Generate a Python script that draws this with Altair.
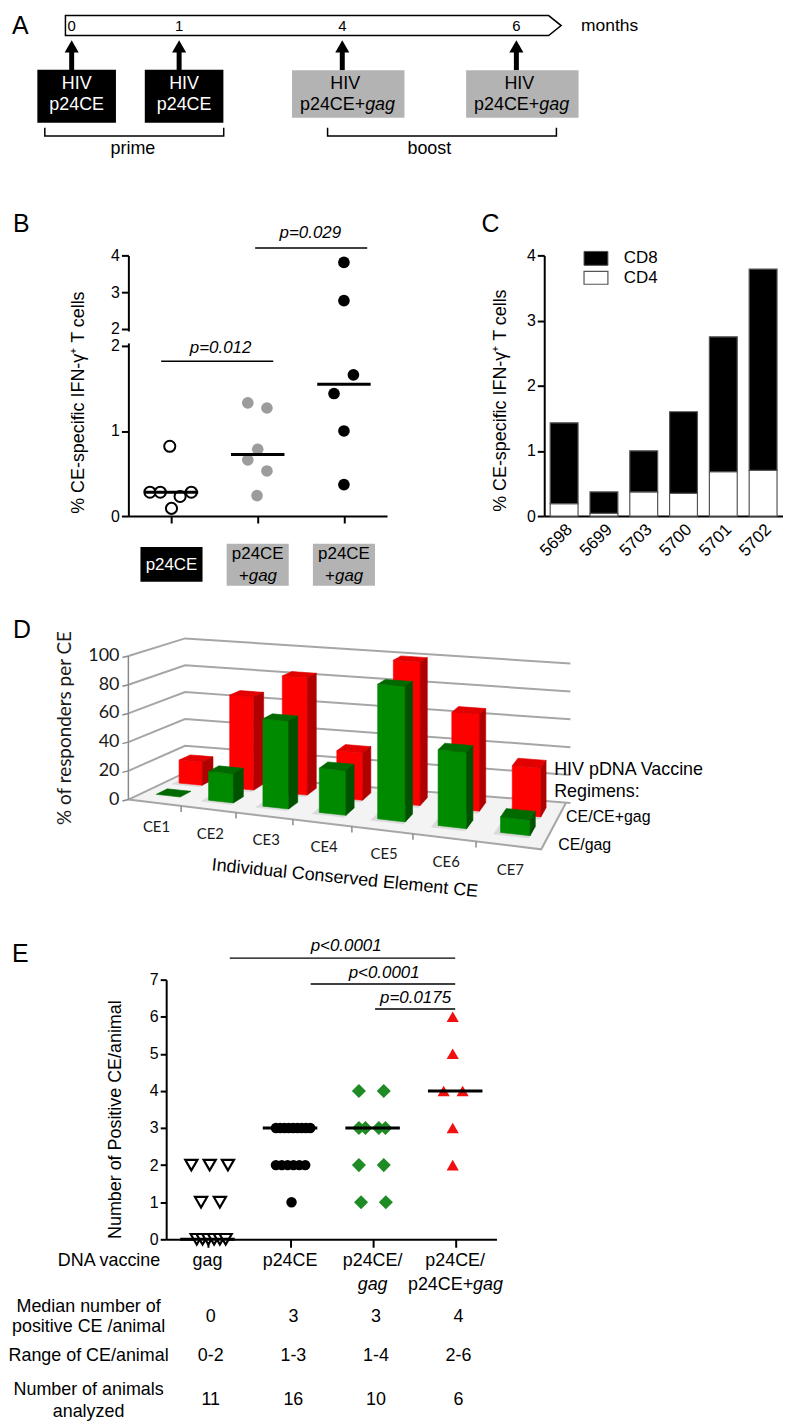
import altair as alt
import numpy as np
import pandas as pd

FONT = "Liberation Sans"
CAL = "Lato"
GRAY_BOX = "#b3b3b3"

# ---------------- data ----------------
# A: immunisation schedule
A_MONTHS = [0, 1, 4, 6]
A_MONTH_LABELS = ["0", "1", "4", "6"]
A_VACCINE = ["p24CE", "p24CE", "p24CE+gag", "p24CE+gag"]
A_PHASES = ["prime", "boost"]
A_PHASE_FROM = [-0.25, 3.73]
A_PHASE_TO = [1.82, 6.46]
A_PHASE_MID = [0.57, 5.0]

# B: % CE-specific IFN-g+ T cells per group (dot plot)
B_GROUPS = ["p24CE", "p24CE+gag", "p24CE+gag"]
B_G0 = [0.82, 0.28, 0.28, 0.23, 0.28, 0.09]
B_G0_JIT = [-0.02, -0.25, -0.13, 0.10, 0.23, 0.00]
B_G1 = [1.33, 1.27, 0.785, 0.66, 0.53, 0.24]
B_G1_JIT = [-0.115, 0.107, 0.0, -0.115, 0.107, -0.008]
B_G2 = [3.81, 2.77, 1.66, 1.44, 1.00, 0.37]
B_G2_JIT = [0.0, 0.0, 0.11, -0.115, 0.0, 0.0]
B_PVALS = ["p=0.012", "p=0.029"]

# C: CD4 / CD8 stacked per animal
C_ANIMALS = ["5698", "5699", "5703", "5700", "5701", "5702"]
C_CD4 = [0.19, 0.04, 0.37, 0.35, 0.68, 0.70]
C_CD8 = [1.24, 0.33, 0.63, 1.25, 2.07, 3.09]

# D: % responders per CE (3-D columns)
D_CE = ["CE1", "CE2", "CE3", "CE4", "CE5", "CE6", "CE7"]
D_CE_GAG = [0, 20, 60, 30, 90, 50, 10]
D_CE_CEGAG = [16.7, 66.7, 83.3, 33.3, 100, 66.7, 33.3]
D_TICKS = [0, 20, 40, 60, 80, 100]
D_SERIES = ["CE/CE+gag", "CE/gag"]

# E: number of positive CE per animal
E_GROUPS = ["gag", "p24CE", "p24CE/gag", "p24CE/p24CE+gag"]
E_GAG = [2, 2, 2, 1, 1, 0, 0, 0, 0, 0, 0]
E_GAG_JIT = [-0.195, 0.027, 0.248, -0.078, 0.15, -0.13, -0.06, 0.01, 0.08, 0.15, 0.22]
E_P24 = [3, 3, 3, 3, 3, 3, 3, 3, 3, 2, 2, 2, 2, 2, 2, 1]
E_P24_JIT = [-0.171, -0.119, -0.067, -0.015, 0.037, 0.089, 0.141, 0.193, 0.245,
             -0.171, -0.1, -0.029, 0.042, 0.113, 0.184, 0.018]
E_CEGAG = [4, 4, 3, 3, 3, 3, 2, 2, 1, 1]
E_CEGAG_JIT = [-0.166, 0.135, -0.166, -0.087, 0.075, 0.155, -0.166, 0.135, -0.14, 0.16]
E_BOOST = [6, 5, 4, 4, 3, 2]
E_BOOST_JIT = [-0.03, -0.03, -0.14, 0.09, -0.03, -0.03]
E_LINE1 = ["gag", "p24CE", "p24CE/", "p24CE/"]
E_MEDIAN_TXT = ["0", "3", "3", "4"]
E_RANGE_TXT = ["0-2", "1-3", "1-4", "2-6"]
E_N_TXT = ["11", "16", "10", "6"]
E_PVALS = ["p<0.0001", "p<0.0001", "p=0.0175"]

ONE = pd.DataFrame({"d": [0]})


def label(text, x, y, size=17, align="center", angle=0, style="normal",
          color="black", font=FONT):
    return alt.Chart(ONE).mark_text(
        text=text, font=font, fontSize=size, align=align, baseline="middle",
        angle=angle, fontStyle=style, color=color
    ).encode(x=alt.value(x), y=alt.value(y))


def spacer(w, h=1):
    return alt.Chart(ONE).mark_point(opacity=0).properties(width=w, height=h)


AXIS_KW = dict(title=None, grid=False, domainWidth=2, tickWidth=2, domainColor="black",
               tickColor="black", labelColor="black", labelFont=FONT, zindex=0,
               labelOverlap=False, labelBound=False, labelFlush=False)

# ================= Panel A =================
AX = alt.X("m:Q", scale=alt.Scale(domain=[-1, 0, 1, 4, 6, 8],
                                  range=[-48, 60, 168, 332, 507, 682],
                                  nice=False, zero=False), axis=None)
AY = alt.Y("py:Q", scale=alt.Scale(domain=[0, 242], range=[0, 242],
                                   nice=False, zero=False), axis=None)
sched = pd.DataFrame({"m": A_MONTHS, "lab": A_MONTH_LABELS, "vac": A_VACCINE})
prime_df = sched[sched.vac == "p24CE"]
boost_df = sched[sched.vac != "p24CE"]

tl = pd.DataFrame({"m": [-0.058, 6.371, 6.514], "py": [1, 1, 11], "py2": [21, 21, 11]})
a_layers = [
    alt.Chart(tl).mark_area(fill="white", stroke="black", strokeWidth=1.5, orient="vertical")
    .encode(x=AX, y=AY, y2="py2:Q"),
    alt.Chart(sched).mark_text(font=FONT, fontSize=15, baseline="middle")
    .encode(x=AX, y=alt.value(11), text="lab:N"),
    alt.Chart(sched).mark_rule(color="black", strokeWidth=5)
    .encode(x=AX, y=alt.value(37), y2=alt.value(56)),
    alt.Chart(sched).mark_point(shape="triangle-up", filled=True, color="black",
                                size=200, opacity=1)
    .encode(x=AX, y=alt.value(32)),
    alt.Chart(prime_df).mark_rect(color="black", xOffset=5 - 39.5, x2Offset=5 + 39.5)
    .encode(x=AX, x2="m:Q", y=alt.value(55.3), y2=alt.value(108.8)),
    alt.Chart(boost_df).mark_rect(color=GRAY_BOX, xOffset=6 - 56.5, x2Offset=6 + 56.5)
    .encode(x=AX, x2="m:Q", y=alt.value(56), y2=alt.value(103.7)),
    alt.Chart(prime_df).mark_text(text="HIV", font=FONT, fontSize=18, color="white",
                                  dx=5, baseline="middle")
    .encode(x=AX, y=alt.value(69.7)),
    alt.Chart(prime_df).mark_text(font=FONT, fontSize=18, color="white", dx=5,
                                  baseline="middle")
    .encode(x=AX, y=alt.value(91.3), text="vac:N"),
    alt.Chart(boost_df).mark_text(text="HIV", font=FONT, fontSize=18, color="black",
                                  dx=3, baseline="middle")
    .encode(x=AX, y=alt.value(69.7)),
    alt.Chart(boost_df).mark_text(text="p24CE+", font=FONT, fontSize=18, color="black",
                                  dx=23, align="right", baseline="middle")
    .encode(x=AX, y=alt.value(91.3)),
    alt.Chart(boost_df).mark_text(text="gag", font=FONT, fontSize=18, color="black",
                                  dx=23, align="left", fontStyle="italic",
                                  baseline="middle")
    .encode(x=AX, y=alt.value(91.3)),
]
br_rows = []
for i, (a, b) in enumerate(zip(A_PHASE_FROM, A_PHASE_TO)):
    br_rows += [dict(id=i, o=0, m=a, py=113.7), dict(id=i, o=1, m=a, py=122),
                dict(id=i, o=2, m=b, py=122), dict(id=i, o=3, m=b, py=113.7)]
a_layers += [
    alt.Chart(pd.DataFrame(br_rows)).mark_line(color="black", strokeWidth=1.5)
    .encode(x=AX, y=AY, order="o:Q", detail="id:N"),
    alt.Chart(pd.DataFrame({"m": A_PHASE_MID, "lab": A_PHASES}))
    .mark_text(font=FONT, fontSize=18, baseline="middle")
    .encode(x=AX, y=alt.value(135), text="lab:N"),
    label("months", 572, 11, size=17.5, align="left"),
    label("A", 0, 11, size=25, align="left"),
]
panelA = alt.layer(*a_layers).properties(width=1, height=242)

# ================= Panel B (broken y axis via piecewise scale) =================
BX = alt.X("x:Q", scale=alt.Scale(domain=[-0.5, 2.5], nice=False, zero=False),
           axis=alt.Axis(values=[0, 1, 2], labels=False, tickSize=7, **AXIS_KW))
BY = alt.Y("v:Q", scale=alt.Scale(domain=[0, 2, 2.001, 4], range=[262, 91, 74, 0],
                                  nice=False, zero=False),
           axis=alt.Axis(values=[0, 1, 2, 2.001, 3, 4], labelExpr="round(datum.value)",
                         tickSize=7, tickCount=20, tickMinStep=0.001,
                         labelFontSize=16, labelPadding=2, **AXIS_KW))


def bdf(vals, jit, idx):
    return pd.DataFrame({"x": [idx + j for j in jit], "v": vals})


g0 = bdf(B_G0, B_G0_JIT, 0)
g1 = bdf(B_G1, B_G1_JIT, 1)
g2 = bdf(B_G2, B_G2_JIT, 2)
meds = pd.DataFrame({"x": [i - 0.31 for i in range(3)], "x2": [i + 0.31 for i in range(3)],
                     "v": [np.median(B_G0), np.median(B_G1), np.median(B_G2)]})
boxes = pd.DataFrame({"x": [i - 0.36 for i in range(3)], "x2": [i + 0.36 for i in range(3)],
                      "v": [-0.363, -0.327, -0.327], "v2": [-0.772, -0.819, -0.819],
                      "fill": ["black", GRAY_BOX, GRAY_BOX]})
b_layers = [
    alt.Chart(g0).mark_point(shape="circle", filled=True, fill="white", stroke="black",
                             strokeWidth=2, size=125, opacity=1).encode(x=BX, y=BY),
    alt.Chart(g1).mark_circle(color="#9c9c9c", size=137, opacity=1).encode(x=BX, y=BY),
    alt.Chart(g2).mark_circle(color="black", size=137, opacity=1).encode(x=BX, y=BY),
    alt.Chart(meds).mark_rule(color="black", strokeWidth=3).encode(x=BX, x2="x2:Q", y=BY),
    alt.Chart(pd.DataFrame({"x": [-0.12, 0.97], "x2": [1.18, 2.27], "v": [1.82, 4.2]}))
    .mark_rule(color="black", strokeWidth=1.5).encode(x=BX, x2="x2:Q", y=BY),
    alt.Chart(pd.DataFrame({"x": [0.57, 1.61], "v": [1.97, 4.6], "t": B_PVALS}))
    .mark_text(font=FONT, fontSize=17, fontStyle="italic", baseline="middle")
    .encode(x=BX, y=BY, text="t:N"),
    alt.Chart(boxes).mark_rect().encode(x=BX, x2="x2:Q", y=BY, y2="v2:Q",
                                        color=alt.Color("fill:N", scale=None)),
    alt.Chart(pd.DataFrame({"x": [0], "v": [-0.573], "t": [B_GROUPS[0]]}))
    .mark_text(font=FONT, fontSize=17, color="white", baseline="middle")
    .encode(x=BX, y=BY, text="t:N"),
    alt.Chart(pd.DataFrame({"x": [1, 2], "v": [-0.444, -0.444]}))
    .mark_text(text="p24CE", font=FONT, fontSize=17, baseline="middle")
    .encode(x=BX, y=BY),
    alt.Chart(pd.DataFrame({"x": [1, 2], "v": [-0.702, -0.702]}))
    .mark_text(text="+", font=FONT, fontSize=17, align="right", dx=-9, baseline="middle")
    .encode(x=BX, y=BY),
    alt.Chart(pd.DataFrame({"x": [1, 2], "v": [-0.702, -0.702]}))
    .mark_text(text="gag", font=FONT, fontSize=17, align="left", dx=-9,
               fontStyle="italic", baseline="middle")
    .encode(x=BX, y=BY),
    alt.Chart(ONE).mark_rect(color="white")
    .encode(x=alt.value(-4), x2=alt.value(4), y=alt.value(76.5), y2=alt.value(88.5)),
    label("% CE-specific IFN-\u03b3\u207a T cells", -50, 148, size=18, angle=270),
    label("B", -116, -32, size=25, align="left"),
]
panelB = alt.layer(*b_layers).properties(width=260, height=262)

# ================= Panel C =================
c_rows = []
for a, c4, c8 in zip(C_ANIMALS, C_CD4, C_CD8):
    c_rows.append({"animal": a, "subset": "CD4", "value": c4, "ord": 0})
    c_rows.append({"animal": a, "subset": "CD8", "value": c8, "ord": 1})
cdf = pd.DataFrame(c_rows)
c_bars = alt.Chart(cdf).mark_bar(stroke="#555555", strokeWidth=1.2).encode(
    x=alt.X("animal:N", sort=C_ANIMALS,
            scale=alt.Scale(paddingInner=0.3, paddingOuter=0.15),
            axis=alt.Axis(labelAngle=-45, ticks=False, labelFontSize=17, labelPadding=5,
                          **AXIS_KW)),
    y=alt.Y("value:Q", stack="zero", scale=alt.Scale(domain=[0, 4], nice=False),
            axis=alt.Axis(values=[0, 1, 2, 3, 4], tickSize=7,
                          labelFontSize=16, labelPadding=2, **AXIS_KW)),
    color=alt.Color("subset:N", scale=alt.Scale(domain=["CD8", "CD4"],
                                                range=["#000000", "#ffffff"]),
                    legend=None),
    order=alt.Order("ord:Q"),
)
leg = [
    alt.Chart(ONE).mark_rect(color="black", stroke="#555555", strokeWidth=1)
    .encode(x=alt.value(40), x2=alt.value(64), y=alt.value(-4), y2=alt.value(10)),
    alt.Chart(ONE).mark_rect(color="white", stroke="#555555", strokeWidth=1.2)
    .encode(x=alt.value(40), x2=alt.value(64), y=alt.value(16), y2=alt.value(29)),
    label("CD8", 80, 3, size=17, align="left"),
    label("CD4", 80, 23, size=17, align="left"),
    label("C", -63, -31, size=25, align="left"),
    label("% CE-specific IFN-\u03b3\u207a T cells", -43, 146, size=18, angle=270),
]
panelC = alt.layer(c_bars, *leg).properties(width=240, height=262)

# ================= Panel D (3-D columns, perspective-like projection) =================
D_FLB, D_FRB, D_BLB, D_BRB = (125.0, 797.0), (540.0, 847.0), (182.0, 770.0), (565.0, 800.0)
D_S = (1.443, 1.62, 1.35, 1.40)


def fu(u, a=0.14):
    return u * (1 + a * u) / (1 + a)


def proj(u, w, v):
    f = fu(u)
    fx = D_FLB[0] + (D_FRB[0] - D_FLB[0]) * f
    fy = D_FLB[1] + (D_FRB[1] - D_FLB[1]) * f
    bx = D_BLB[0] + (D_BRB[0] - D_BLB[0]) * f
    by = D_BLB[1] + (D_BRB[1] - D_BLB[1]) * f
    sf = D_S[0] + (D_S[1] - D_S[0]) * f
    sb = D_S[2] + (D_S[3] - D_S[2]) * f
    x = fx + (bx - fx) * w
    y = fy + (by - fy) * w
    s = sf + (sb - sf) * w
    return x, y - s * v


def poly_rows(pts, pid):
    """Convex polygon -> rows (x, top y, bottom y) for a vertical area mark."""
    xs = sorted(set(round(p[0], 3) for p in pts))
    n = len(pts)
    rows = []
    for x in xs:
        ys = []
        for i in range(n):
            (x1, y1), (x2, y2) = pts[i], pts[(i + 1) % n]
            if min(x1, x2) - 1e-3 <= x <= max(x1, x2) + 1e-3:
                if abs(x2 - x1) < 1e-3:
                    ys += [y1, y2]
                else:
                    t = min(1, max(0, (x - x1) / (x2 - x1)))
                    ys.append(y1 + t * (y2 - y1))
        rows.append({"pid": pid, "x": x, "y": min(ys), "y2": max(ys)})
    return rows


DX = alt.X("x:Q", scale=alt.Scale(domain=[8, 783], range=[0, 775], nice=False, zero=False),
           axis=None)
DY = alt.Y("y:Q", scale=alt.Scale(domain=[512, 977.3], range=[0, 465.3], nice=False,
                                  zero=False), axis=None)


def poly_layer(rows, color, opacity=1):
    return alt.Chart(pd.DataFrame(rows)).mark_area(
        orient="vertical", interpolate="linear", fill=color, stroke=color,
        strokeWidth=0.6, opacity=opacity
    ).encode(x=DX, y=DY, y2="y2:Q", detail="pid:N")


def line_layer(rows, color, width):
    return alt.Chart(pd.DataFrame(rows)).mark_line(color=color, strokeWidth=width).encode(
        x=DX, y=DY, order="o:Q", detail="gid:N")


RED = {"front": "#ff0000", "top": "#e30000", "side": "#b00000"}
GREEN = {"front": "#008a00", "top": "#006a00", "side": "#005200"}
HALF = 0.033
faces = {(t, f): [] for t in ["r", "g"] for f in ["front", "top", "side", "shadow"]}
for k in range(7):
    uc = (k + 0.5) / 7
    u0, u1 = uc - HALF, uc + HALF
    for vals, (w0, w1), tag in [(D_CE_CEGAG, (0.66, 0.86), "r"),
                                (D_CE_GAG, (0.25, 0.45), "g")]:
        v = vals[k]
        if v > 0:
            faces[(tag, "shadow")] += poly_rows(
                [proj(u0 - 0.012, w0 - 0.05, 0), proj(u1, w0 - 0.05, 0),
                 proj(u1, w1, 0), proj(u0 - 0.012, w1, 0)], f"{tag}{k}h")
            faces[(tag, "front")] += poly_rows(
                [proj(u0, w0, 0), proj(u1, w0, 0), proj(u1, w0, v), proj(u0, w0, v)],
                f"{tag}{k}f")
            faces[(tag, "side")] += poly_rows(
                [proj(u1, w0, 0), proj(u1, w1, 0), proj(u1, w1, v), proj(u1, w0, v)],
                f"{tag}{k}s")
        faces[(tag, "top")] += poly_rows(
            [proj(u0, w0, v), proj(u1, w0, v), proj(u1, w1, v), proj(u0, w1, v)],
            f"{tag}{k}t")

floor = poly_rows([proj(0, 0, 0), proj(1, 0, 0), proj(1, 1, 0), proj(0, 1, 0)], "floor")


def path_rows(pts, gid):
    return [{"gid": gid, "o": i, "x": p[0], "y": p[1]} for i, p in enumerate(pts)]


grid = []
for v in D_TICKS:
    grid += path_rows([proj(0, 0, v), proj(0, 1, v), proj(1.01, 1, v)], f"g{v}")
edges = path_rows([proj(0, 0, 0), proj(1, 0, 0), proj(1, 1, 0)], "edge")
axis_lines = path_rows([proj(0, 0, 0), proj(0, 0, 100)], "ax")
for v in D_TICKS:
    x, y = proj(0, 0, v)
    axis_lines += path_rows([(x, y), (x - 6, y + 1.5)], f"t{v}")
for k in range(1, 7):
    x, y = proj(k / 7, 0, 0)
    axis_lines += path_rows([(x, y), (x, y + 6)], f"c{k}")

tick_lab = pd.DataFrame({"x": [116] * len(D_TICKS),
                         "y": [proj(0, 0, v)[1] for v in D_TICKS],
                         "t": [str(v) for v in D_TICKS]})
ce_lab = pd.DataFrame({"x": [proj((k + 0.5) / 7, 0, 0)[0] + 2 for k in range(7)],
                       "y": [proj((k + 0.5) / 7, 0, 0)[1] + 24.5 for k in range(7)],
                       "t": D_CE})

d_layers = [
    poly_layer(floor, "#f3f3f3"),
    line_layer(grid, "#a6a6a6", 2),
    line_layer(edges, "#a6a6a6", 2),
    line_layer(axis_lines, "#8a8a8a", 1.5),
]
for tag, cols in [("r", RED), ("g", GREEN)]:
    d_layers.append(poly_layer(faces[(tag, "shadow")], "#d4d4d4", 0.8))
    for f in ["front", "top", "side"]:
        d_layers.append(poly_layer(faces[(tag, f)], cols[f]))
d_layers += [
    alt.Chart(tick_lab).mark_text(font=CAL, fontSize=18, align="right", baseline="middle",
                                  color="#1a1a1a").encode(x=DX, y=DY, text="t:N"),
    alt.Chart(ce_lab).mark_text(font=CAL, fontSize=15, baseline="middle",
                                color="#1a1a1a").encode(x=DX, y=DY, text="t:N"),
    alt.Chart(pd.DataFrame({"x": [565, 557], "y": [815, 843], "t": D_SERIES}))
    .mark_text(font=FONT, fontSize=16, align="left", baseline="middle")
    .encode(x=DX, y=DY, text="t:N"),
    alt.Chart(pd.DataFrame({"x": [553, 553], "y": [767, 789],
                            "t": ["HIV pDNA Vaccine", "Regimens:"]}))
    .mark_text(font=FONT, fontSize=18, align="left", baseline="middle")
    .encode(x=DX, y=DY, text="t:N"),
    alt.Chart(pd.DataFrame({"x": [61], "y": [725], "t": ["% of responders per CE"]}))
    .mark_text(font=CAL, fontSize=19, angle=270, baseline="middle", color="#1a1a1a")
    .encode(x=DX, y=DY, text="t:N"),
    alt.Chart(pd.DataFrame({"x": [342.5], "y": [876.5], "t": ["Individual Conserved Element CE"]}))
    .mark_text(font=FONT, fontSize=18, angle=5.7, baseline="middle")
    .encode(x=DX, y=DY, text="t:N"),
    alt.Chart(pd.DataFrame({"x": [9], "y": [627], "t": ["D"]}))
    .mark_text(font=FONT, fontSize=25, align="left", baseline="middle")
    .encode(x=DX, y=DY, text="t:N"),
]
panelD = alt.layer(*d_layers).properties(width=1, height=465.3)

# ================= Panel E (cell starts at page x 125; plot spans 163..495) =================
E_OFF = 38
EX = alt.X("x:Q", scale=alt.Scale(domain=[-0.5, 3.5], range=[E_OFF, E_OFF + 332],
                                  nice=False, zero=False),
           axis=alt.Axis(values=[0, 1, 2, 3], labels=False, tickSize=8, **AXIS_KW))
EY = alt.Y("v:Q", scale=alt.Scale(domain=[0, 7], nice=False, zero=False),
           axis=alt.Axis(values=list(range(8)), tickSize=6, labelFontSize=16,
                         labelPadding=2, offset=-E_OFF, **AXIS_KW))


def edf(vals, jit, idx):
    return pd.DataFrame({"x": [idx + j for j in jit], "v": vals})


e0 = edf(E_GAG, E_GAG_JIT, 0)
e1 = edf(E_P24, E_P24_JIT, 1)
e2 = edf(E_CEGAG, E_CEGAG_JIT, 2)
e3 = edf(E_BOOST, E_BOOST_JIT, 3)
emeds = pd.DataFrame({"x": [i - 0.33 for i in range(4)], "x2": [i + 0.33 for i in range(4)],
                      "v": [np.median(E_GAG), np.median(E_P24), np.median(E_CEGAG),
                            np.median(E_BOOST)]})
epv = pd.DataFrame({"x": [0.27, 1.25, 2.03], "x2": [3.0, 3.0, 3.0], "v": [7.58, 6.88, 6.21]})
epvt = pd.DataFrame({"x": [1.68, 2.14, 2.52], "v": [7.91, 7.19, 6.5], "t": E_PVALS})
tbl = pd.DataFrame({"x": [i + 0.04 for i in range(4)], "med": E_MEDIAN_TXT,
                    "rng": E_RANGE_TXT, "n": E_N_TXT})
line1 = pd.DataFrame({"x": [0, 1, 2, 3], "t": E_LINE1})


def etext(df, y, field, **kw):
    return alt.Chart(df).mark_text(font=FONT, fontSize=18, baseline="middle", **kw).encode(
        x=EX, y=alt.value(y), text=f"{field}:N")


e_layers = [
    alt.Chart(e0).mark_point(shape="triangle-down", filled=True, fill="white", stroke="black",
                             strokeWidth=2.2, size=150, opacity=1).encode(x=EX, y=EY),
    alt.Chart(e1).mark_circle(color="black", size=110, opacity=1).encode(x=EX, y=EY),
    alt.Chart(e2).mark_point(shape="diamond", filled=True, color="#1f8b24", size=200,
                             opacity=1).encode(x=EX, y=EY),
    alt.Chart(e3).mark_point(shape="triangle-up", filled=True, color="#f01010", size=150,
                             opacity=1).encode(x=EX, y=EY),
    alt.Chart(emeds).mark_rule(color="black", strokeWidth=3).encode(x=EX, x2="x2:Q", y=EY),
    alt.Chart(epv).mark_rule(color="black", strokeWidth=1.5).encode(x=EX, x2="x2:Q", y=EY),
    alt.Chart(epvt).mark_text(font=FONT, fontSize=17, fontStyle="italic", baseline="middle")
    .encode(x=EX, y=EY, text="t:N"),
    etext(line1, 282.7, "t"),
    etext(line1[line1.x == 2], 306.7, "t", fontStyle="italic").encode(text=alt.value("gag")),
    alt.Chart(line1[line1.x == 3]).mark_text(text="p24CE+", font=FONT, fontSize=18,
                                             align="right", dx=18, baseline="middle")
    .encode(x=EX, y=alt.value(306.7)),
    alt.Chart(line1[line1.x == 3]).mark_text(text="gag", font=FONT, fontSize=18,
                                             align="left", dx=18, fontStyle="italic",
                                             baseline="middle")
    .encode(x=EX, y=alt.value(306.7)),
    etext(tbl, 338.7, "med"),
    etext(tbl, 378.7, "rng"),
    etext(tbl, 422.7, "n"),
    label("DNA vaccine", E_OFF - 6, 282.7, size=18, align="right"),
    label("Median number of", E_OFF - 78, 328.7, size=18),
    label("positive CE /animal", E_OFF - 78, 349.4, size=18),
    label("Range of CE/animal", E_OFF - 78, 378.7, size=18),
    label("Number of animals", E_OFF - 78, 412.7, size=18),
    label("analyzed", E_OFF - 78, 434.4, size=18),
    label("Number of Positive CE/animal", E_OFF - 50, 140.7, size=18, angle=270),
    label("E", E_OFF - 155, -26, size=25, align="left"),
]
panelE = alt.layer(*e_layers).properties(width=260, height=261)

cells = [
    panelA, spacer(1), spacer(1), spacer(1),
    spacer(117), panelB, spacer(158), panelC,
    panelD, spacer(1), spacer(1), spacer(1),
    spacer(117), panelE,
]
chart = alt.concat(
    *cells, columns=4, spacing=0, bounds="flush",
).properties(padding=0, background="white").configure_view(strokeWidth=0)

chart.save("out.html", embed_options={"renderer": "svg", "actions": False})
